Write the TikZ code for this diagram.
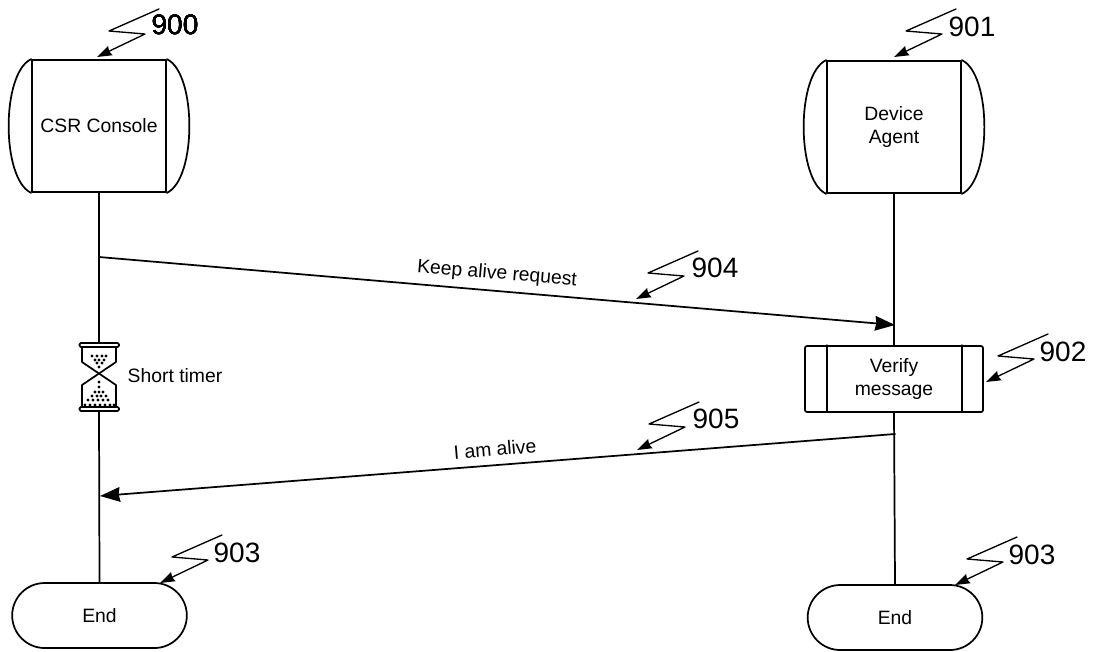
\documentclass[tikz,border=0pt]{standalone}
\usepackage{fontspec}
\setmainfont{Liberation Sans}
\usetikzlibrary{arrows.meta,shapes.misc}
\tikzset{
  every picture/.style={line join=round, line cap=round, >=Stealth},
  lab/.style={font=\fontsize{14.5}{17.5}\selectfont, align=center, inner sep=0pt},
  refno/.style={font=\fontsize{21}{21}\selectfont, inner sep=0pt},
  flow/.style={line width=1.3pt},
  msg/.style={line width=1.3pt, -{Stealth[length=15pt,width=11pt,inset=1pt]}},
  jag/.style={line width=1pt, {Stealth[length=11pt,width=7.5pt,inset=1pt]}-},
  console/.style={flow, lab, draw, minimum width=100.5pt, minimum height=99pt},
  process/.style={flow, lab, draw, rounded corners=1.5pt, minimum width=133.5pt, minimum height=49.5pt},
  stopper/.style={flow, lab, draw, rounded rectangle, minimum width=131pt, minimum height=48.75pt},
}
\newcommand{\bowends}[1]{
\draw[flow](#1.north west)..controls +(-30,14) and +(-30,-14)..(#1.south west);
\draw[flow](#1.north east)..controls +(30,14) and +(30,-14)..(#1.south east);
}
\newcommand{\jagged}[1]{
\draw[jag](#1)--++(48,-23)--++(-36,-3)--++(50,-22);
}
\begin{document}
\begin{tikzpicture}[x=0.75pt,y=-0.75pt]
\useasboundingbox(0,0)rectangle(1094,651);
\node[console](csr)at(99,126){CSR Console};
\node[console](device)at(894,127){Device\\Agent};
\bowends{csr}
\bowends{device}
\node[process](verify)at(894,379){Verify\\message};
\draw[flow](verify.north west)++(23,0)--++(0,66);
\draw[flow](verify.north east)++(-22,0)--++(0,66);
\node[stopper](endl)at(99.5,615.5){End};
\node[stopper](endr)at(895,617.5){End};
% hourglass
\node[minimum width=30pt,minimum height=51pt,inner sep=0pt](timer)at(99,377){};
\draw[flow,fill=white,rounded corners=1pt](79.5,343)rectangle(119,347);
\draw[flow,fill=white,rounded corners=1pt](79.5,407)rectangle(119,411);
\draw[flow](82,347)--(82,362)--(116,385)--(116,407);
\draw[flow](116,347)--(116,362)--(82,385)--(82,407);
\foreach \x/\y in {92/356,97/356,102/356,106/356,95/360,99/360,104/360,97/363,102/363,99/367,
  99/382,99/387,95/392,99/392,103/392,92/396,97/396,101/396,106/396,88/400,93/400,98/400,103/400,108/400,
  85/405,90/405,95/405,100/405,105/405,110/405,114/405}
  \fill(\x,\y)circle(1.6);
\node[lab](timerlab)at(175,376){Short timer};
\draw[flow](csr.south)--(timer.north);
\draw[flow](timer.south)--(endl.north);
\draw[flow](device.south)--(verify.north);
\draw[flow](verify.south)--(endr.north);
\coordinate(reqa)at(99,257);
\coordinate(reqb)at(895,325);
\coordinate(alva)at(895,434);
\coordinate(alvb)at(100,496);
\draw[msg](reqa)--(reqb);
\draw[msg](alva)--(alvb);
\node[lab,rotate=-5](reqlab)at(497,274){Keep alive request};
\node[lab,rotate=5](alvlab)at(495,449){I am alive};
\coordinate(t900)at(97,57);
\coordinate(t901)at(894,57);
\coordinate(t902)at(986,382);
\coordinate(t903)at(160,583);
\coordinate(t903b)at(955,585);
\coordinate(t904)at(636,299);
\coordinate(t905)at(637,450);
\foreach \t in {t900,t901,t902,t903,t903b,t904,t905}
  \jagged{\t}
\node[refno](n900)at(175,24.5){900};
\node[refno](n901)at(972,26.5){901};
\node[refno](n902)at(1063,352){902};
\node[refno](n903)at(237,553){903};
\node[refno](n903b)at(1032,555){903};
\node[refno](n904)at(715,268){904};
\node[refno](n905)at(716,419){905};
\end{tikzpicture}
\end{document}
